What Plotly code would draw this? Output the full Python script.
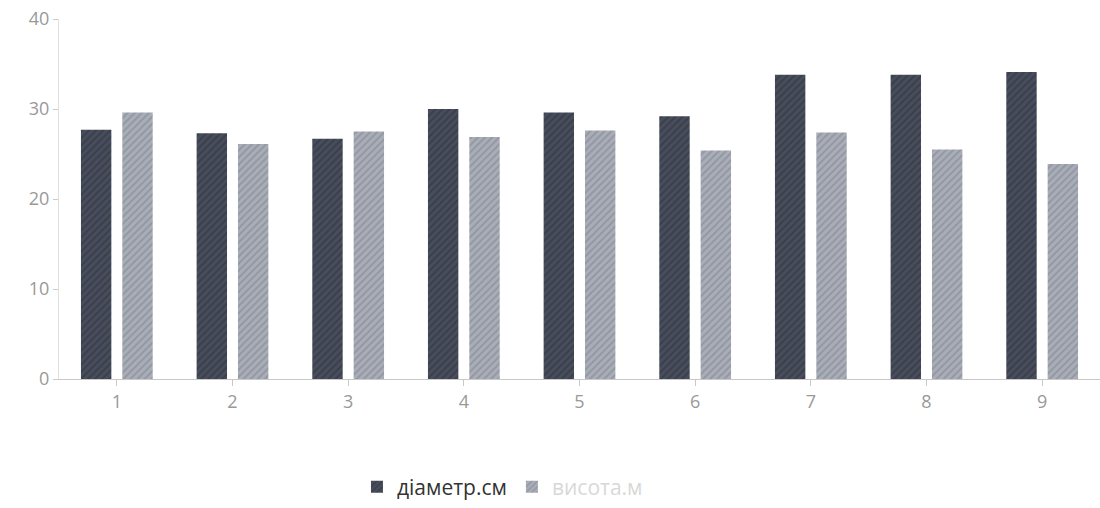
import plotly.graph_objects as go

# Tree measurements per sample plot
categories = ["1", "2", "3", "4", "5", "6", "7", "8", "9"]
diameter_cm = [27.7, 27.3, 26.7, 30.0, 29.6, 29.2, 33.8, 33.8, 34.1]
height_m = [29.6, 26.1, 27.5, 26.9, 27.6, 25.4, 27.4, 25.5, 23.9]
y_ticks = [0, 10, 20, 30, 40]

fig = go.Figure()
fig.add_trace(go.Bar(
    x=categories, y=diameter_cm, name="діаметр.см",
    marker=dict(color="#454a59", line=dict(width=0),
                pattern=dict(shape="/", fgcolor="#2c3039", bgcolor="#484d5c",
                             size=5, solidity=0.35)),
))
fig.add_trace(go.Bar(
    x=categories, y=height_m,
    name="<span style='color:#d8d8d8'>висота.м</span>",
    marker=dict(color="#a3a7b1", line=dict(width=0),
                pattern=dict(shape="/", fgcolor="#7b7f8a", bgcolor="#a9adb7",
                             size=5, solidity=0.35)),
))

fig.update_layout(
    width=1100, height=508,
    margin=dict(l=59, r=0, t=19, b=122),
    paper_bgcolor="white", plot_bgcolor="white",
    barmode="group", bargap=0.285, bargroupgap=0.265,
    font=dict(family="Open Sans", size=18, color="#8a8a8a"),
    showlegend=True,
    legend=dict(orientation="h", x=0.426, xanchor="center", y=-0.3, yanchor="middle",
                font=dict(size=21, color="#333333"), itemwidth=30,
                traceorder="normal"),
    xaxis=dict(showgrid=False, showline=True, linecolor="#c8c8c8", linewidth=1,
               ticks="outside", ticklen=6, tickcolor="#c8c8c8",
               tickfont=dict(color="#999999")),
    yaxis=dict(range=[0, 40], tickvals=y_ticks, showgrid=False, zeroline=False,
               showline=True, linecolor="#e0e0e0", linewidth=1,
               ticks="outside", ticklen=5, tickcolor="#cccccc",
               tickfont=dict(color="#999999")),
)

fig.write_html("out.html")
